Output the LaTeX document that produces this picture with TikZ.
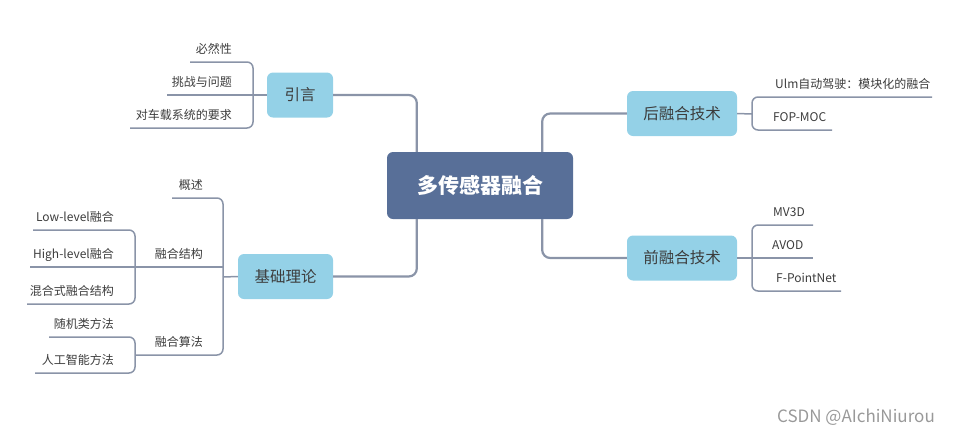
\documentclass[tikz,border=0pt]{standalone}
\usepackage{fontspec}
\setmainfont{Noto Sans CJK SC}
\usepackage{tikz}
\usetikzlibrary{positioning}
\definecolor{rootblue}{RGB}{88, 111, 152}
\definecolor{topicblue}{RGB}{148, 209, 231}
\definecolor{linegray}{RGB}{138, 148, 168}
\definecolor{textgray}{RGB}{60, 60, 60}
\tikzset{
  rootbox/.style={fill=rootblue, rounded corners=6pt, minimum width=186pt, minimum height=67pt,
    text=white, font=\fontsize{21}{24}\selectfont\bfseries},
  topicbox/.style={fill=topicblue, rounded corners=6pt, minimum height=45pt,
    text=textgray, font=\fontsize{15.5}{18}\selectfont},
  subtext/.style={inner sep=0pt, text=textgray, font=\fontsize{12}{14}\selectfont},
  mainline/.style={draw=linegray, line width=2.2pt, rounded corners=8pt},
  subline/.style={draw=linegray, line width=1.5pt, rounded corners=6pt}
}

\begin{document}
\begin{tikzpicture}[x=1pt, y=-1pt]
  \useasboundingbox (0,0) rectangle (960,437);

  % centre and main topics
  \node[rootbox] (root) at (480,185.5) {多传感器融合};
  \node[topicbox, minimum width=66pt] (intro) at (300,95) {引言};
  \node[topicbox, minimum width=95pt] (theory) at (285.5,276.5) {基础理论};
  \node[topicbox, minimum width=110pt] (late) at (682,113.5) {后融合技术};
  \node[topicbox, minimum width=110pt] (early) at (682,258) {前融合技术};

  \draw[mainline] ([xshift=30pt]root.north west) |- (intro.east);
  \draw[mainline] ([xshift=30pt]root.south west) |- (theory.east);
  \draw[mainline] ([xshift=-31pt]root.north east) |- (late.west);
  \draw[mainline] ([xshift=-31pt]root.south east) |- (early.west);

  % 引言
  \node[subtext, anchor=base east] (need) at (232,53) {必然性};
  \node[subtext, anchor=base east] (challenge) at (232,86) {挑战与问题};
  \node[subtext, anchor=base east] (demand) at (232,119) {对车载系统的要求};
  \coordinate (need-l) at (190,62);
  \coordinate (challenge-l) at (167,95);
  \coordinate (demand-l) at (130,128);
  \draw[subline] (need-l) -| (253,95) |- (demand-l);
  \draw[subline] (intro.west) -- (challenge-l);

  % 基础理论
  \node[subtext, anchor=base east] (overview) at (203,189) {概述};
  \node[subtext, anchor=base east] (struct) at (203,258) {融合结构};
  \node[subtext, anchor=base east] (algo) at (203,346) {融合算法};
  \coordinate (overview-l) at (172,198);
  \coordinate (algo-l) at (135,355);
  \draw[subline] (overview-l) -| (223,277) |- (algo-l);
  \draw[subline] (theory.west) -- (223,277);

  \node[subtext, anchor=base east] (low) at (114,221) {Low-level融合};
  \node[subtext, anchor=base east] (high) at (114,258) {High-level融合};
  \node[subtext, anchor=base east] (hybrid) at (114,295) {混合式融合结构};
  \coordinate (low-l) at (33,230);
  \coordinate (high-l) at (30,267);
  \coordinate (hybrid-l) at (27,304);
  \draw[subline] (low-l) -| (135,267) |- (hybrid-l);
  \draw[subline] (223,267) -- (high-l);

  \node[subtext, anchor=base east] (random) at (114,328) {随机类方法};
  \node[subtext, anchor=base east] (ai) at (114,364) {人工智能方法};
  \coordinate (random-l) at (49,337);
  \coordinate (ai-l) at (35,373);
  \draw[subline] (random-l) -| (algo-l) |- (ai-l);

  % 后融合技术
  \node[subtext, anchor=base west] (ulm) at (775,88) {Ulm自动驾驶：模块化的融合};
  \node[subtext, anchor=base west] (fop) at (773,121) {FOP-MOC};
  \coordinate (ulm-r) at (932,97);
  \coordinate (fop-r) at (832,130);
  \draw[subline] (ulm-r) -| (752,114) |- (fop-r);
  \draw[subline] (late.east) -- (752,114);

  % 前融合技术
  \node[subtext, anchor=base west] (mv3d) at (773,216) {MV3D};
  \node[subtext, anchor=base west] (avod) at (772,249) {AVOD};
  \node[subtext, anchor=base west] (fpn) at (776,282) {F-PointNet};
  \coordinate (mv3d-r) at (813,225);
  \coordinate (avod-r) at (813,258);
  \coordinate (fpn-r) at (841,291);
  \draw[subline] (mv3d-r) -| (752,258) |- (fpn-r);
  \draw[subline] (early.east) -- (avod-r);

  \node[anchor=east, inner sep=0pt, text=gray!80, font=\fontsize{17}{20}\selectfont] (mark) at (935,417) {CSDN @AIchiNiurou};
\end{tikzpicture}
\end{document}
